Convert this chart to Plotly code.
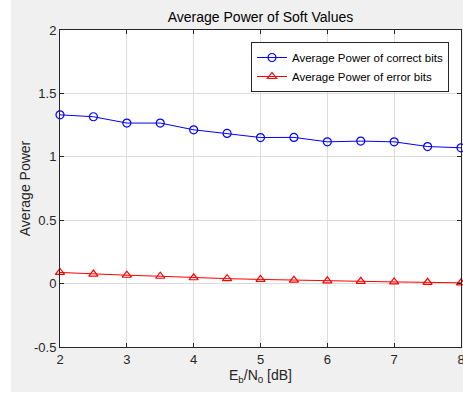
import plotly.graph_objects as go

ebn0 = [2, 2.5, 3, 3.5, 4, 4.5, 5, 5.5, 6, 6.5, 7, 7.5, 8]
power_correct = [1.331, 1.316, 1.266, 1.266, 1.213, 1.184, 1.152, 1.153, 1.118, 1.124, 1.118, 1.081, 1.071]
power_error = [0.088, 0.075, 0.066, 0.058, 0.046, 0.039, 0.033, 0.027, 0.022, 0.018, 0.013, 0.010, 0.006]
x_ticks = [2, 3, 4, 5, 6, 7, 8]
y_ticks = [-0.5, 0, 0.5, 1, 1.5, 2]
y_ticklabels = ["-0.5", "0", "0.5", "1", "1.5", "2"]

W, H = 463, 394
L, R, T, B = 60, 2, 30, 47
pw, ph = W - L - R, H - T - B
FONT = "Liberation Sans, Arial, sans-serif"

fig = go.Figure()
fig.add_trace(go.Scatter(
    x=ebn0, y=power_correct, mode="lines+markers",
    name="Average Power of correct bits",
    line=dict(color="#0000ff", width=1),
    marker=dict(symbol="circle-open", size=8, color="#0000ff", line=dict(width=1.2)),
    cliponaxis=False,
))
fig.add_trace(go.Scatter(
    x=ebn0, y=power_error, mode="lines+markers",
    name="Average Power of error bits",
    line=dict(color="#ff0000", width=1),
    marker=dict(symbol="triangle-up-open", size=8, color="#ff0000", line=dict(width=1.2)),
    cliponaxis=False,
))

axis_common = dict(
    showline=True, linecolor="#262626", linewidth=1, mirror="ticks",
    ticks="inside", ticklen=4, tickcolor="#262626",
    showgrid=True, gridcolor="#dcdcdc", gridwidth=1, zeroline=False,
    automargin=False, ticklabeloverflow="allow",
    tickfont=dict(family=FONT, size=13, color="#262626"),
)

fig.update_xaxes(range=[2, 8], tickvals=x_ticks, **axis_common,
                 title=dict(text="E<sub>b</sub>/N<sub>0</sub> [dB]", standoff=2,
                            font=dict(family=FONT, size=14, color="#262626")))
fig.update_yaxes(range=[-0.5, 2], tickvals=y_ticks, ticktext=y_ticklabels, **axis_common,
                 title=dict(text="Average Power", standoff=0,
                            font=dict(family=FONT, size=14, color="#262626")))

fig.update_layout(
    width=W, height=H,
    margin=dict(l=L, r=R, t=T, b=B, autoexpand=False),
    paper_bgcolor="#f0f0f0", plot_bgcolor="#ffffff",
    title=dict(text="Average Power of Soft Values", x=(L + pw / 2) / W, xanchor="center",
               y=1 - 17 / H, yanchor="middle",
               font=dict(family=FONT, size=14, color="#000000")),
    legend=dict(x=(449 - L) / pw, xanchor="right", y=1 - (42 - T) / ph, yanchor="top",
                bgcolor="#ffffff", bordercolor="#262626", borderwidth=1,
                font=dict(family=FONT, size=11.5, color="#000000"),
                tracegroupgap=0, itemwidth=30),
    showlegend=True,
    shapes=[
        dict(type="rect", xref="paper", yref="paper", layer="below",
             x0=-L / pw, x1=-(L - 11) / pw, y0=-B / ph, y1=1 + T / ph,
             fillcolor="#ffffff", line=dict(width=0)),
        dict(type="rect", xref="paper", yref="paper", layer="below",
             x0=-L / pw, x1=1 + R / pw, y0=-B / ph, y1=-(B - 2) / ph,
             fillcolor="#ffffff", line=dict(width=0)),
    ],
)

fig.write_html("out.html", config={"displayModeBar": False},
               post_script="document.body.style.margin='0';document.body.style.overflow='hidden';")
